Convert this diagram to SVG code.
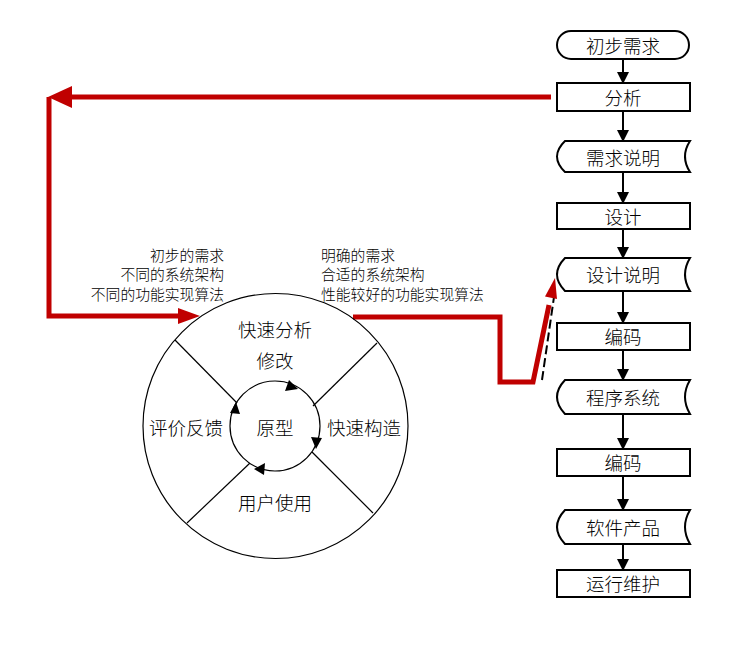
<svg xmlns="http://www.w3.org/2000/svg" width="743" height="651" viewBox="0 0 743 651">
<style>
text{font-family:"Noto Sans CJK SC","Noto Sans",sans-serif;fill:#000;font-weight:300}
.box{fill:#fff;stroke:#000;stroke-width:2}
.bt{font-size:18.5px;text-anchor:middle;dominant-baseline:central}
.ct{font-size:18.5px;text-anchor:middle;dominant-baseline:central}
.lt{font-size:14.8px;dominant-baseline:central}
.flow{stroke:#000;stroke-width:2;fill:none}
.red{stroke:#c00000;stroke-width:5;fill:none;stroke-linejoin:miter}
.thin{stroke:#000;stroke-width:1.2;fill:none}
</style>
<defs>
<marker id="ah" markerWidth="12" markerHeight="12" refX="11" refY="6" orient="auto" markerUnits="userSpaceOnUse">
<path d="M0,0 L12,6 L0,12 Z" fill="#000"/>
</marker>
</defs>
<rect width="743" height="651" fill="#fff"/>

<g id="connectors">
<line class="flow" x1="623" y1="59" x2="623" y2="83" marker-end="url(#ah)"/>
<line class="flow" x1="623" y1="111" x2="623" y2="141" marker-end="url(#ah)"/>
<line class="flow" x1="623" y1="172" x2="623" y2="203" marker-end="url(#ah)"/>
<line class="flow" x1="623" y1="229" x2="623" y2="258" marker-end="url(#ah)"/>
<line class="flow" x1="623" y1="291" x2="623" y2="323" marker-end="url(#ah)"/>
<line class="flow" x1="623" y1="350" x2="623" y2="380" marker-end="url(#ah)"/>
<line class="flow" x1="623" y1="414" x2="623" y2="449" marker-end="url(#ah)"/>
<line class="flow" x1="623" y1="476" x2="623" y2="510" marker-end="url(#ah)"/>
<line class="flow" x1="623" y1="544" x2="623" y2="570" marker-end="url(#ah)"/>
<!-- red feedback loop -->
<polyline class="red" points="551,97 68,97"/>
<polygon points="48,97 72,86 72,108" fill="#c00000"/>
<polyline class="red" points="49,97 49,316 182,316"/>
<polygon points="200,316 178,308 178,324" fill="#c00000"/>
<!-- red forward path -->
<line x1="542" y1="380" x2="555" y2="290" stroke="#000" stroke-width="2" stroke-dasharray="9,4"/>
<polyline class="red" points="353,317 500,317 500,382 533,382 549,305"/>
<polygon points="555,278 557,299 545,296.5" fill="#c00000"/>
</g>

<g id="cycle">
<circle cx="275.5" cy="426" r="132.5" class="thin"/>
<circle cx="275" cy="426" r="45" class="thin"/>
<line class="thin" x1="175" y1="340" x2="237" y2="403"/>
<line class="thin" x1="377" y1="343" x2="313" y2="406"/>
<line class="thin" x1="312" y1="452" x2="373" y2="513"/>
<line class="thin" x1="250" y1="463" x2="187" y2="523"/>
<polygon points="298,389 285,391 289,380" fill="#000"/>
<polygon points="316,449 311,437 322,438" fill="#000"/>
<polygon points="254,469 265,463 264,475" fill="#000"/>
<polygon points="236,402 240,414 230,413" fill="#000"/>
<text class="ct" x="275" y="329">快速分析</text>
<text class="ct" x="275" y="360">修改</text>
<text class="ct" x="275" y="427">原型</text>
<text class="ct" x="186" y="427">评价反馈</text>
<text class="ct" x="364" y="427">快速构造</text>
<text class="ct" x="275" y="502">用户使用</text>
</g>

<g id="label-left">
<text class="lt" x="224" y="254" text-anchor="end">初步的需求</text>
<text class="lt" x="224" y="273" text-anchor="end">不同的系统架构</text>
<text class="lt" x="224" y="293" text-anchor="end">不同的功能实现算法</text>
</g>
<g id="label-right">
<text class="lt" x="321" y="254">明确的需求</text>
<text class="lt" x="321" y="273">合适的系统架构</text>
<text class="lt" x="321" y="293">性能较好的功能实现算法</text>
</g>

<g id="n1"><rect class="box" x="557" y="31" width="132" height="28" rx="14"/><text class="bt" x="623" y="45">初步需求</text></g>
<g id="n2"><rect class="box" x="557" y="83" width="133" height="28"/><text class="bt" x="623" y="97">分析</text></g>
<g id="n3"><path class="box" d="M565,141 L690,141 Q680,156.5 690,172 L565,172 Q549,156.5 565,141 Z"/><text class="bt" x="623" y="157">需求说明</text></g>
<g id="n4"><rect class="box" x="557" y="203" width="133" height="26"/><text class="bt" x="623" y="216">设计</text></g>
<g id="n5"><path class="box" d="M565,258 L690,258 Q680,274.5 690,291 L565,291 Q549,274.5 565,258 Z"/><text class="bt" x="623" y="274">设计说明</text></g>
<g id="n6"><rect class="box" x="557" y="323" width="133" height="27"/><text class="bt" x="623" y="336">编码</text></g>
<g id="n7"><path class="box" d="M565,380 L690,380 Q680,397 690,414 L565,414 Q549,397 565,380 Z"/><text class="bt" x="623" y="397">程序系统</text></g>
<g id="n8"><rect class="box" x="557" y="449" width="133" height="27"/><text class="bt" x="623" y="462">编码</text></g>
<g id="n9"><path class="box" d="M565,510 L690,510 Q680,527 690,544 L565,544 Q549,527 565,510 Z"/><text class="bt" x="623" y="527">软件产品</text></g>
<g id="n10"><rect class="box" x="557" y="570" width="133" height="27"/><text class="bt" x="623" y="583">运行维护</text></g>
</svg>
